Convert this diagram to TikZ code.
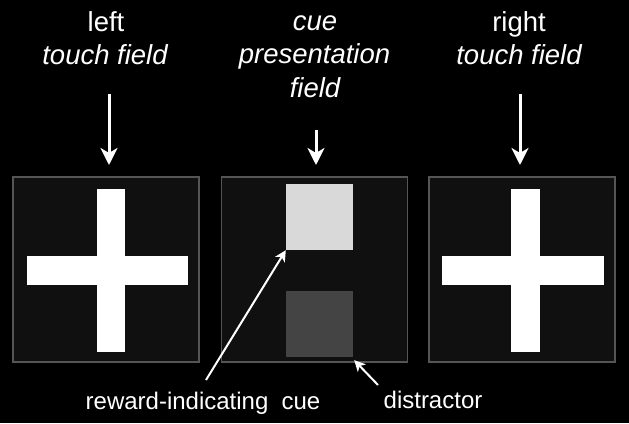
\documentclass[tikz,border=0pt]{standalone}
\usepackage{fontspec}
\setmainfont{Liberation Sans}
\usetikzlibrary{arrows.meta}
\definecolor{panelfill}{HTML}{101010}
\definecolor{panelborder}{HTML}{555555}
\definecolor{cuelight}{HTML}{D9D9D9}
\definecolor{cuedark}{HTML}{444444}
\tikzset{
  panel/.style={draw=panelborder, fill=panelfill, line width=1.5pt, minimum width=186pt, minimum height=185pt, inner sep=0pt},
  toplabel/.style={text=white, anchor=base, inner sep=0pt, font=\fontsize{27.5}{33}\selectfont},
  botlabel/.style={text=white, anchor=base, inner sep=0pt, font=\fontsize{24}{29}\selectfont},
  bigarrow/.style={draw=white, line width=3pt, -{Stealth[length=17pt, width=17pt, inset=5pt]}},
  smallarrow/.style={draw=white, line width=2pt, -{Stealth[length=11pt, width=11pt, inset=3pt]}},
  crossbar/.style={fill=white, draw=none},
}
\begin{document}
\begin{tikzpicture}[x=1pt, y=-1pt]
\fill[black] (0,0) rectangle (629,423);
\useasboundingbox (0,0) rectangle (629,423);

% panels
\node[panel] (L) at (106,269.5) {};
\node[panel] (M) at (314.5,269.5) {};
\node[panel] (R) at (522,269.5) {};

% crosses
\fill[crossbar] (97,189) rectangle (125,352);
\fill[crossbar] (27,256) rectangle (188,285);
\fill[crossbar] (511,189) rectangle (540,352);
\fill[crossbar] (442,256) rectangle (604,285);

% cues
\node[fill=cuelight, minimum width=67pt, minimum height=66pt, inner sep=0pt] (C1) at (319.5,217) {};
\node[fill=cuedark, minimum width=67pt, minimum height=66pt, inner sep=0pt] (C2) at (319.5,324) {};

% top labels
\node[toplabel] (t1) at (106,31) {left};
\node[toplabel] (t2) at (105,64) {\itshape touch field};
\node[toplabel] (m1) at (315,30) {\itshape cue};
\node[toplabel] (m2) at (314.5,63) {\itshape presentation};
\node[toplabel] (m3) at (315,97) {\itshape field};
\node[toplabel] (r1) at (519,31) {right};
\node[toplabel] (r2) at (519,64) {\itshape touch field};

% top arrows
\coordinate (aL) at (109,94);
\coordinate (aM) at (316,130);
\coordinate (aR) at (520,94);
\draw[bigarrow] (aL) -- (109,165);
\draw[bigarrow] (aM) -- (316,165);
\draw[bigarrow] (aR) -- (520,165);

% bottom labels
\node[botlabel] (b1) at (203,409) {reward-indicating\hspace{0.55em}cue};
\node[botlabel] (b2) at (433,408) {distractor};

% bottom arrows
\coordinate (rt) at (206,380);
\coordinate (dt) at (378,385);
\draw[smallarrow] (rt) -- (C1.south west);
\draw[smallarrow] (dt) -- ([shift={(1,3)}]C2.south east);
\end{tikzpicture}
\end{document}
